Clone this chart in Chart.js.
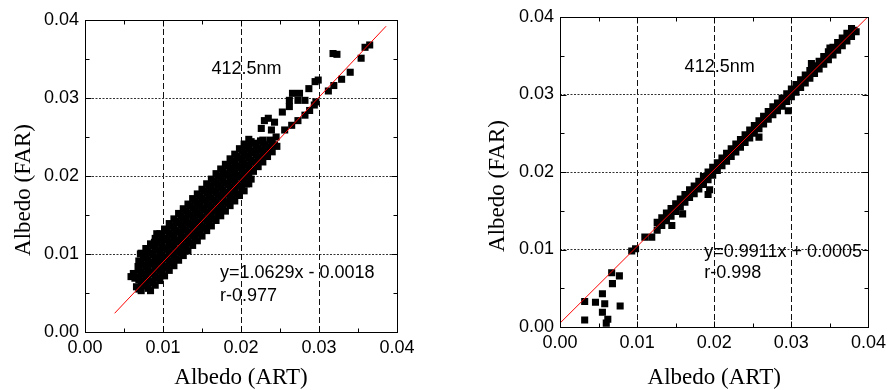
<!DOCTYPE html>
<html>
<head>
<meta charset="utf-8">
<script src="https://cdn.jsdelivr.net/npm/chart.js@4.4.1/dist/chart.umd.min.js"></script>
<style>
  html, body { margin: 0; padding: 0; background: #fff; }
  .wrap { position: relative; width: 891px; height: 390px; }
  #leftChart { position: absolute; left: 0; top: 0; }
  #rightChart { position: absolute; left: 445px; top: 0; }
</style>
</head>
<body>
<div class="wrap">
  <canvas id="leftChart" width="445" height="390"></canvas>
  <canvas id="rightChart" width="446" height="390"></canvas>
</div>
<script>
// axis values
const axisTicks = [0, 0.01, 0.02, 0.03, 0.04];
const minorTicks = [0.005, 0.015, 0.025, 0.035];
const wavelengthLabel = '412.5nm';
const xTitle = 'Albedo (ART)';
const yTitle = 'Albedo (FAR)';

// left panel
const leftFitLabel = ['y=1.0629x - 0.0018', 'r-0.977'];
const leftFitLine = [[0.0038, 0.0024], [0.0386, 0.0392]];
const leftBand = [
  [0.0084,0.0053],[0.0090,0.0060],[0.0096,0.0066],[0.0102,0.0072],[0.0108,0.0079],[0.0114,0.0085],
  [0.0120,0.0092],[0.0126,0.0098],[0.0132,0.0104],[0.0138,0.0111],[0.0144,0.0117],[0.0150,0.0123],
  [0.0156,0.0130],[0.0162,0.0136],[0.0168,0.0143],[0.0174,0.0149],[0.0180,0.0155],[0.0186,0.0162],
  [0.0192,0.0168],[0.0198,0.0175],[0.0204,0.0181],[0.0210,0.0190],

  [0.0081,0.0056],[0.0087,0.0063],[0.0093,0.0069],[0.0099,0.0075],[0.0105,0.0082],[0.0111,0.0088],
  [0.0117,0.0094],[0.0123,0.0101],[0.0129,0.0107],[0.0135,0.0114],[0.0141,0.0120],[0.0147,0.0126],
  [0.0153,0.0133],[0.0159,0.0139],[0.0165,0.0145],[0.0171,0.0152],[0.0177,0.0158],[0.0183,0.0165],
  [0.0189,0.0171],[0.0195,0.0177],[0.0201,0.0184],[0.0207,0.0190],[0.0213,0.0196],

  [0.0072,0.0053],[0.0078,0.0059],[0.0084,0.0065],[0.0090,0.0072],[0.0096,0.0078],[0.0102,0.0084],
  [0.0108,0.0091],[0.0114,0.0097],[0.0120,0.0104],[0.0126,0.0110],[0.0132,0.0116],[0.0138,0.0123],
  [0.0144,0.0129],[0.0150,0.0135],[0.0156,0.0142],[0.0162,0.0148],[0.0168,0.0155],[0.0174,0.0161],
  [0.0180,0.0167],[0.0186,0.0174],[0.0192,0.0180],[0.0198,0.0187],[0.0204,0.0193],[0.0210,0.0199],
  [0.0216,0.0206],[0.0222,0.0212],[0.0228,0.0218],[0.0234,0.0225],[0.0240,0.0231],[0.0246,0.0238],

  [0.0069,0.0055],[0.0075,0.0062],[0.0081,0.0068],[0.0087,0.0075],[0.0093,0.0081],[0.0099,0.0087],
  [0.0105,0.0094],[0.0111,0.0100],[0.0117,0.0106],[0.0123,0.0113],[0.0129,0.0119],[0.0135,0.0126],
  [0.0141,0.0132],[0.0147,0.0138],[0.0153,0.0145],[0.0159,0.0151],[0.0165,0.0157],[0.0171,0.0164],
  [0.0177,0.0170],[0.0183,0.0177],[0.0189,0.0183],[0.0195,0.0189],[0.0201,0.0196],[0.0207,0.0202],
  [0.0213,0.0208],[0.0219,0.0215],[0.0225,0.0221],[0.0231,0.0228],[0.0237,0.0234],[0.0243,0.0240],

  [0.0066,0.0058],[0.0072,0.0065],[0.0078,0.0071],[0.0084,0.0077],[0.0090,0.0084],[0.0096,0.0090],
  [0.0102,0.0096],[0.0108,0.0103],[0.0114,0.0109],[0.0120,0.0116],[0.0126,0.0122],[0.0132,0.0128],
  [0.0138,0.0135],[0.0144,0.0141],[0.0150,0.0147],[0.0156,0.0154],[0.0162,0.0160],[0.0168,0.0167],
  [0.0174,0.0173],[0.0180,0.0179],[0.0186,0.0186],[0.0192,0.0192],[0.0198,0.0199],[0.0204,0.0205],
  [0.0210,0.0211],[0.0216,0.0218],[0.0222,0.0224],[0.0228,0.0230],[0.0234,0.0237],[0.0240,0.0243],

  [0.0069,0.0067],[0.0075,0.0074],[0.0081,0.0080],[0.0087,0.0087],[0.0093,0.0093],[0.0099,0.0099],
  [0.0105,0.0106],[0.0111,0.0112],[0.0117,0.0118],[0.0123,0.0125],[0.0129,0.0131],[0.0135,0.0138],
  [0.0141,0.0144],[0.0147,0.0150],[0.0153,0.0157],[0.0159,0.0163],[0.0165,0.0169],[0.0171,0.0176],
  [0.0177,0.0182],[0.0183,0.0189],[0.0189,0.0195],[0.0195,0.0201],[0.0201,0.0208],[0.0207,0.0214],
  [0.0213,0.0220],[0.0219,0.0227],[0.0225,0.0233],[0.0231,0.0240],[0.0237,0.0246],

  [0.0066,0.0070],[0.0072,0.0077],[0.0078,0.0083],[0.0084,0.0089],[0.0090,0.0096],[0.0096,0.0102],
  [0.0102,0.0108],[0.0108,0.0115],[0.0114,0.0121],[0.0120,0.0128],[0.0126,0.0134],[0.0132,0.0140],
  [0.0138,0.0147],[0.0144,0.0153],[0.0150,0.0159],[0.0156,0.0166],[0.0162,0.0172],[0.0168,0.0179],
  [0.0174,0.0185],[0.0180,0.0191],[0.0186,0.0198],[0.0192,0.0204],[0.0198,0.0211],[0.0204,0.0217],
  [0.0210,0.0223],[0.0216,0.0230],[0.0222,0.0236],[0.0228,0.0242],

  [0.0069,0.0079],[0.0075,0.0086],[0.0081,0.0092],[0.0087,0.0099],[0.0093,0.0105],[0.0099,0.0111],
  [0.0105,0.0118],[0.0111,0.0124],[0.0117,0.0130],[0.0123,0.0137],[0.0129,0.0143],[0.0135,0.0150],
  [0.0141,0.0156],[0.0147,0.0162],[0.0153,0.0169],[0.0159,0.0175],[0.0165,0.0181],[0.0171,0.0188],
  [0.0177,0.0194],[0.0183,0.0201],[0.0189,0.0207],[0.0195,0.0213],[0.0201,0.0220],[0.0207,0.0226],
  [0.0213,0.0232],[0.0219,0.0239],[0.0225,0.0245],

  [0.0068,0.0084],[0.0072,0.0089],[0.0078,0.0095],[0.0084,0.0101],[0.0090,0.0108],[0.0096,0.0114],
  [0.0102,0.0120],[0.0108,0.0127],[0.0114,0.0133],[0.0120,0.0140],[0.0126,0.0146],[0.0132,0.0152],
  [0.0138,0.0159],[0.0144,0.0165],[0.0150,0.0171],[0.0156,0.0178],[0.0162,0.0184],[0.0168,0.0191],
  [0.0174,0.0197],[0.0180,0.0203],[0.0186,0.0210],[0.0192,0.0216],[0.0198,0.0223],[0.0204,0.0229],
  [0.0210,0.0235],[0.0216,0.0242],

  [0.0069,0.0091],[0.0075,0.0098],[0.0081,0.0104],[0.0087,0.0111],[0.0093,0.0117],[0.0099,0.0123],
  [0.0105,0.0130],[0.0111,0.0136],[0.0117,0.0142],[0.0123,0.0149],[0.0129,0.0155],[0.0135,0.0162],
  [0.0141,0.0168],[0.0147,0.0174],[0.0153,0.0181],[0.0159,0.0187],[0.0165,0.0193],[0.0171,0.0200],
  [0.0177,0.0206],[0.0183,0.0213],[0.0189,0.0219],[0.0195,0.0225],[0.0201,0.0232],[0.0207,0.0238],
  [0.0213,0.0244],

  [0.0072,0.0101],[0.0078,0.0107],[0.0084,0.0113],[0.0090,0.0120],[0.0096,0.0126],[0.0102,0.0132],
  [0.0108,0.0139],[0.0114,0.0145],[0.0120,0.0152],[0.0126,0.0158],[0.0132,0.0164],[0.0138,0.0171],
  [0.0144,0.0177],[0.0150,0.0183],[0.0156,0.0190],[0.0162,0.0196],[0.0168,0.0203],[0.0174,0.0209],
  [0.0180,0.0215],[0.0186,0.0222],[0.0192,0.0228],[0.0198,0.0235],[0.0204,0.0241],[0.0210,0.0247]
];
const leftSparse = [
  [0.0059,0.0071],[0.0064,0.0069],[0.0062,0.0075],[0.0071,0.0100],[0.0089,0.0115],[0.0092,0.0126],
  [0.0226,0.0261],[0.0230,0.0271],[0.0235,0.0274],[0.0239,0.0259],[0.0243,0.0269],[0.0253,0.0282],
  [0.0262,0.0289],[0.0262,0.0297],[0.0266,0.0306],[0.0275,0.0306],[0.0273,0.0297],[0.0282,0.0297],
  [0.0287,0.0312],[0.0295,0.0321],[0.0299,0.0323],[0.0296,0.0295],[0.0294,0.0291],[0.0288,0.0284],
  [0.0282,0.0278],[0.0273,0.0271],[0.0265,0.0265],[0.0256,0.0259],[0.0245,0.0250],[0.0228,0.0246],
  [0.0312,0.0309],[0.0319,0.0316],[0.0329,0.0324],[0.0340,0.0333],[0.0354,0.0351],[0.0318,0.0357],
  [0.0323,0.0356],[0.0359,0.0365],[0.0365,0.0368]
];

// right panel
const rightFitLabel = ['y=0.9911x + 0.0005', 'r-0.998'];
const rightFitLine = [[0, 0.0005], [0.04, 0.0401]];
const rightBand = [
  [0.0126,0.0135],[0.0132,0.0141],[0.0138,0.0147],[0.0144,0.0153],[0.0150,0.0159],[0.0156,0.0165],
  [0.0162,0.0171],[0.0168,0.0177],[0.0174,0.0182],[0.0180,0.0188],[0.0186,0.0194],[0.0192,0.0200],
  [0.0198,0.0206],[0.0204,0.0212],[0.0210,0.0218],[0.0216,0.0224],[0.0222,0.0230],[0.0228,0.0236],
  [0.0234,0.0242],[0.0240,0.0248],[0.0246,0.0254],[0.0252,0.0260],[0.0258,0.0266],[0.0264,0.0272],
  [0.0270,0.0278],[0.0276,0.0284],[0.0282,0.0289],[0.0288,0.0295],[0.0294,0.0301],[0.0300,0.0307],
  [0.0306,0.0313],[0.0312,0.0319],[0.0318,0.0325],[0.0324,0.0331],[0.0330,0.0337],[0.0336,0.0343],
  [0.0342,0.0349],[0.0348,0.0355],[0.0354,0.0361],[0.0360,0.0367],[0.0366,0.0373],[0.0372,0.0379],
  [0.0378,0.0385],

  [0.0129,0.0133],[0.0135,0.0139],[0.0141,0.0145],[0.0147,0.0151],[0.0153,0.0157],[0.0159,0.0163],
  [0.0165,0.0169],[0.0171,0.0174],[0.0177,0.0180],[0.0183,0.0186],[0.0189,0.0192],[0.0195,0.0198],
  [0.0201,0.0204],[0.0207,0.0210],[0.0213,0.0216],[0.0219,0.0222],[0.0225,0.0228],[0.0231,0.0234],
  [0.0237,0.0240],[0.0243,0.0246],[0.0249,0.0252],[0.0255,0.0258],[0.0261,0.0264],[0.0267,0.0270],
  [0.0273,0.0276],[0.0279,0.0282],[0.0285,0.0287],[0.0291,0.0293],[0.0297,0.0299],[0.0303,0.0305],
  [0.0309,0.0311],[0.0315,0.0317],[0.0321,0.0323],[0.0327,0.0329],[0.0333,0.0335],[0.0339,0.0341],
  [0.0345,0.0347],[0.0351,0.0353],[0.0357,0.0359],[0.0363,0.0365],[0.0369,0.0371],[0.0375,0.0377],
  [0.0381,0.0383],

  [0.0126,0.0125],[0.0132,0.0131],[0.0138,0.0137],[0.0144,0.0143],[0.0150,0.0149],[0.0156,0.0155],
  [0.0162,0.0161],[0.0168,0.0167],[0.0174,0.0172],[0.0180,0.0178],[0.0186,0.0184],[0.0192,0.0190],
  [0.0198,0.0196],[0.0204,0.0202],[0.0210,0.0208],[0.0216,0.0214],[0.0222,0.0220],[0.0228,0.0226],
  [0.0234,0.0232],[0.0240,0.0238],[0.0246,0.0244],[0.0252,0.0250],[0.0258,0.0256],[0.0264,0.0262],
  [0.0270,0.0268],[0.0276,0.0274],[0.0282,0.0279],[0.0288,0.0285],[0.0294,0.0291],[0.0300,0.0297],
  [0.0306,0.0303],[0.0312,0.0309],[0.0318,0.0315],[0.0324,0.0321],[0.0330,0.0327],[0.0336,0.0333],
  [0.0342,0.0339],[0.0348,0.0345],[0.0354,0.0351],[0.0360,0.0357],[0.0366,0.0363],[0.0372,0.0369],
  [0.0378,0.0375],[0.0384,0.0381]
];
const rightSparse = [
  [0.0032,0.0009],[0.0032,0.0033],[0.0046,0.0032],[0.0055,0.0043],[0.0058,0.0030],[0.0055,0.0019],
  [0.0062,0.0010],[0.0060,0.0005],[0.0078,0.0027],[0.0068,0.0056],[0.0067,0.0070],[0.0077,0.0066],
  [0.0093,0.0098],[0.0098,0.0101],[0.0110,0.0116],[0.0119,0.0116],[0.0145,0.0131],[0.0159,0.0146],
  [0.0192,0.0171],[0.0194,0.0177],[0.0296,0.0279],[0.0326,0.0340],[0.0350,0.0360],[0.0258,0.0245]
];

const toXY = arr => arr.map(([x, y]) => ({ x, y }));
const isEdge = v => Math.abs(v) < 1e-9 || Math.abs(v - 0.04) < 1e-9;

// frame, inner ticks, annotations and axis titles
const framePlugin = {
  id: 'frame',
  afterDatasetsDraw(chart, args, opts) {
    const { ctx, chartArea: a, scales: { x, y } } = chart;
    ctx.save();
    ctx.strokeStyle = '#000';
    ctx.lineWidth = 1;
    const L = Math.round(a.left) + 0.5, R = Math.round(a.right) + 0.5;
    const T = Math.round(a.top) + 0.5, B = Math.round(a.bottom) + 0.5;
    ctx.strokeRect(L, T, R - L, B - T);
    ctx.beginPath();
    const marks = (vals, len) => vals.forEach(v => {
      const px = Math.round(x.getPixelForValue(v)) + 0.5;
      const py = Math.round(y.getPixelForValue(v)) + 0.5;
      ctx.moveTo(px, B); ctx.lineTo(px, B - len);
      ctx.moveTo(px, T); ctx.lineTo(px, T + len);
      ctx.moveTo(L, py); ctx.lineTo(L + len, py);
      ctx.moveTo(R, py); ctx.lineTo(R - len, py);
    });
    marks(minorTicks, 4);
    marks(axisTicks, 6);
    ctx.stroke();

    ctx.fillStyle = '#000';
    ctx.font = '18px "Liberation Sans", Arial, sans-serif';
    ctx.textBaseline = 'middle';
    ctx.textAlign = 'center';
    ctx.fillText(wavelengthLabel, x.getPixelForValue(opts.nmAt[0]), y.getPixelForValue(opts.nmAt[1]));
    ctx.textAlign = 'left';
    opts.fitText.forEach((t, i) => {
      ctx.fillText(t, x.getPixelForValue(opts.fitAt[0]), y.getPixelForValue(opts.fitAt[1]) + i * opts.lineGap);
    });

    ctx.font = '23px "Liberation Serif", "Times New Roman", serif';
    ctx.textAlign = 'center';
    ctx.fillText(xTitle, (a.left + a.right) / 2, opts.xTitleY);
    ctx.translate(opts.yTitleX, (a.top + a.bottom) / 2 + 14);
    ctx.rotate(-Math.PI / 2);
    ctx.fillText(yTitle, 0, 0);
    ctx.restore();
  }
};

function axis(size, isX) {
  return {
    type: 'linear',
    min: 0,
    max: 0.04,
    afterBuildTicks: s => { s.ticks = axisTicks.map(v => ({ value: v })); },
    afterFit: s => { if (isX) s.height = size; else s.width = size; },
    ticks: {
      callback: v => v.toFixed(2),
      padding: isX ? 5 : 6,
      maxRotation: 0,
      autoSkip: false,
      color: '#000',
      font: { size: 18, family: '"Liberation Sans", Arial, sans-serif' }
    },
    grid: {
      drawTicks: false,
      lineWidth: 1,
      color: c => (c.tick && isEdge(c.tick.value)) ? 'rgba(0,0,0,0)' : (isX ? '#111' : '#333')
    },
    border: { display: false, dash: isX ? [6, 3] : [2, 1.5] }
  };
}

function makeChart(id, band, sparse, fitLine, cfg) {
  return new Chart(document.getElementById(id), {
    type: 'scatter',
    data: {
      datasets: [
        {
          data: toXY(fitLine),
          showLine: true,
          borderColor: '#ff0000',
          borderWidth: 1,
          pointRadius: 0,
          order: 0
        },
        {
          data: toXY(band.concat(sparse)),
          backgroundColor: '#000',
          borderWidth: 0,
          pointStyle: 'rect',
          pointRadius: 5,
          order: 1
        }
      ]
    },
    options: {
      responsive: false,
      animation: false,
      events: [],
      layout: { padding: cfg.padding },
      plugins: {
        legend: { display: false },
        tooltip: { enabled: false },
        frame: cfg.frame
      },
      scales: {
        x: axis(cfg.xAxisHeight, true),
        y: axis(cfg.yAxisWidth, false)
      }
    },
    plugins: [framePlugin]
  });
}

makeChart('leftChart', leftBand, leftSparse, leftFitLine, {
  padding: { top: 20, right: 48, left: 0, bottom: 0 },
  yAxisWidth: 85,
  xAxisHeight: 58,
  frame: { nmAt: [0.0207, 0.0337], fitAt: [0.0173, 0.0075], fitText: leftFitLabel, lineGap: 23, xTitleY: 378, yTitleX: 24 }
});

makeChart('rightChart', rightBand, rightSparse, rightFitLine, {
  padding: { top: 17, right: 18, left: 0, bottom: 0 },
  yAxisWidth: 115,
  xAxisHeight: 63,
  frame: { nmAt: [0.0207, 0.0335], fitAt: [0.0187, 0.0097], fitText: rightFitLabel, lineGap: 21, xTitleY: 378, yTitleX: 53 }
});
</script>
</body>
</html>
